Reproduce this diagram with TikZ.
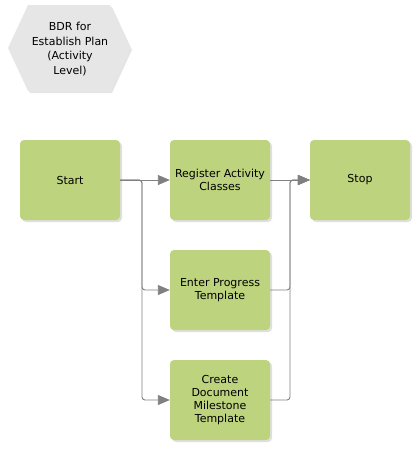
\documentclass[tikz,border=0pt]{standalone}
\usepackage{fontspec}
\setmainfont{DejaVu Sans}
\usetikzlibrary{shadows,arrows.meta}
\definecolor{boxgreen}{RGB}{189,211,125}
\definecolor{hexgray}{RGB}{230,230,230}
\definecolor{linegray}{RGB}{128,128,128}
\tikzset{
	task/.style={fill=boxgreen,rounded corners=4pt,minimum width=100pt,minimum height=80pt,align=center,font=\fontsize{11}{13.2}\selectfont,drop shadow={shadow xshift=2pt,shadow yshift=-2pt,fill=black!25}},
	flow/.style={linegray,line width=0.9pt,-{Triangle[length=12pt,width=10pt]}},
}
\begin{document}
\begin{tikzpicture}[x=1pt,y=-1pt]
	\useasboundingbox (0,0) rectangle (420,450);
	\fill[hexgray,drop shadow={shadow xshift=2pt,shadow yshift=-2pt,fill=black!20}] (8,48) -- (28,5) -- (110,5) -- (130,48) -- (110,91) -- (28,91) -- cycle;
	\node[align=center,font=\fontsize{11}{14.5}\selectfont] (title) at (70,49) {BDR for\\Establish Plan\\(Activity\\Level)};
	\node[task] (start) at (70,180) {Start};
	\node[task] (reg) at (220,180) {Register Activity\\Classes};
	\node[task] (stop) at (360,180) {Stop};
	\node[task] (prog) at (220,290) {Enter Progress\\Template};
	\node[task] (doc) at (220,400) {Create\\Document\\Milestone\\Template};
	\coordinate (fork) at (142,180);
	\coordinate (join) at (290,180);
	\draw[flow] (start.east) -- (reg.west);
	\draw[flow,rounded corners=3pt] (start.east) -- (fork) |- (prog.west);
	\draw[flow,rounded corners=3pt] (start.east) -- (fork) |- (doc.west);
	\draw[flow] (reg.east) -- (stop.west);
	\draw[flow,rounded corners=3pt] (prog.east) -| (join) -- (stop.west);
	\draw[flow,rounded corners=3pt] (doc.east) -| (join) -- (stop.west);
\end{tikzpicture}
\end{document}
